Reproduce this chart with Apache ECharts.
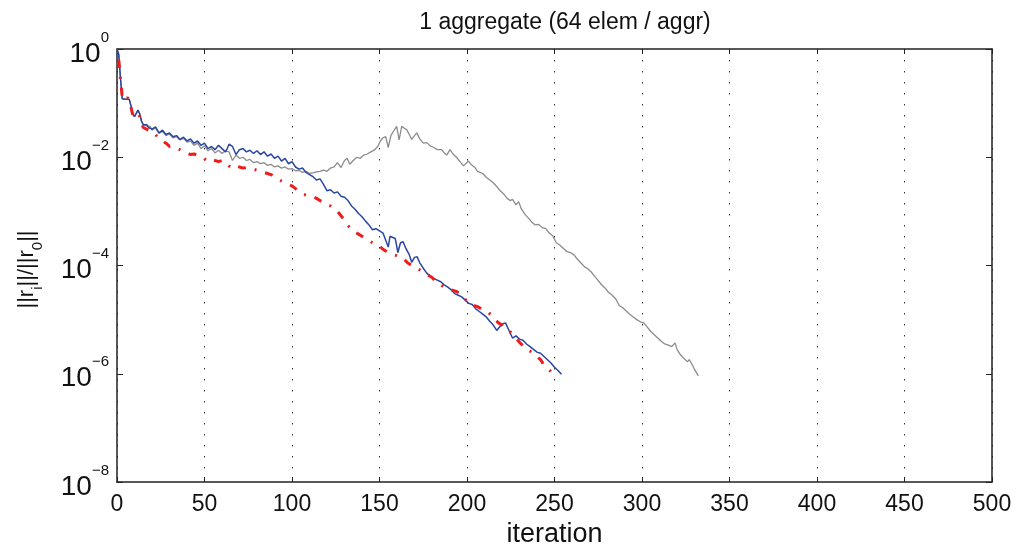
<!DOCTYPE html>
<html>
<head>
<meta charset="utf-8">
<script src="https://cdn.jsdelivr.net/npm/echarts@6/dist/echarts.min.js"></script>
<style>
  html, body { margin: 0; padding: 0; background: #fff; }
  #main { width: 1017px; height: 553px; }
</style>
</head>
<body>
<div id="main"></div>
<script>
// residual history, log10(||r_i|| / ||r_0||) vs iteration
var grayIt = [0,1,2,3,4,5,6,7,8,9,10,11,12,13,14,15,16,17,18,19,20,22,24,26,28,30,32,34,36,38,40,42,44,46,48,50,52,54,56,58,60,62,64,66,68,70,72,74,76,78,80,82,84,86,88,90,92,94,96,98,100,102,104,106,108,110,112,114,116,118,120,122,124,126,128,130,131.5,133,135,137,139,141,143,145,147,149,150.5,152,153.5,155,156.5,158,159.8,161.2,162.7,164,165.5,167,168.4,170,171.3,173,175,177,179,181,183,185.5,187,188.4,190.3,192,194,196,198,200.8,202.5,204.6,206,207.4,209,211,213,215,217,219,221,223,224.6,226,228,229.5,231,233,235,237,239,241,243,245,247,249,251,253,255,257,259,261,263,265,267,269,271,273,275,277,279,281,283,285,287,289,291,293,295,297,299,301,303,305,307,309,311,313,315,317,318.9,320,322,324,326,327,328.5,330,332.2];
var grayLog = [0,-0.1,-0.55,-0.92,-0.95,-0.93,-0.9,-0.93,-1.05,-1.2,-1.25,-1.22,-1.13,-1.2,-1.33,-1.4,-1.37,-1.42,-1.45,-1.43,-1.5,-1.46,-1.56,-1.52,-1.6,-1.57,-1.64,-1.62,-1.68,-1.65,-1.72,-1.7,-1.78,-1.74,-1.84,-1.79,-1.88,-1.84,-1.92,-1.87,-1.93,-1.88,-1.9,-2.06,-1.96,-2.02,-2.0,-2.06,-2.04,-2.1,-2.08,-2.12,-2.1,-2.15,-2.13,-2.18,-2.16,-2.2,-2.18,-2.22,-2.21,-2.25,-2.24,-2.28,-2.26,-2.3,-2.29,-2.27,-2.26,-2.24,-2.26,-2.2,-2.18,-2.1,-2.19,-2.06,-2.02,-2.13,-2.06,-2.0,-2.02,-1.96,-1.94,-1.9,-1.87,-1.8,-1.7,-1.64,-1.62,-1.82,-1.6,-1.52,-1.43,-1.68,-1.43,-1.46,-1.49,-1.58,-1.67,-1.6,-1.55,-1.66,-1.74,-1.73,-1.79,-1.82,-1.86,-1.86,-1.92,-1.96,-1.86,-1.94,-2.0,-2.08,-2.16,-2.07,-2.14,-2.19,-2.26,-2.28,-2.3,-2.37,-2.42,-2.47,-2.54,-2.62,-2.68,-2.76,-2.8,-2.78,-2.88,-2.82,-2.95,-3.05,-3.12,-3.2,-3.25,-3.24,-3.3,-3.32,-3.4,-3.45,-3.58,-3.62,-3.68,-3.74,-3.76,-3.8,-3.88,-3.95,-4.02,-4.06,-4.12,-4.2,-4.28,-4.36,-4.42,-4.5,-4.55,-4.62,-4.74,-4.78,-4.84,-4.9,-4.95,-5.0,-5.04,-5.06,-5.14,-5.22,-5.28,-5.34,-5.4,-5.45,-5.47,-5.5,-5.43,-5.55,-5.65,-5.72,-5.78,-5.74,-5.82,-5.92,-6.04];

var blueIt = [0,1,2,3,4,5,6,7,8,9,10,11,12,13,14,15,16,17,18,19,20,22,24,26,28,30,32,34,36,38,40,42,44,46,48,50,52,54,56,58,60,62,63,64,66,68,70,72,74,76,78,80,82,84,86,88,90,92,94,96,98,100,102,104,106,108,110,112,114,116,118,120,122,124,126,128,130,132,134,136,138,140,142,144,146,148,150,152,153,155,156,157,159,160.5,162,163.5,165,167,168.4,170,171.5,173,175,177,179,181,183,185,187,189,191,193,195,197,199,201,203,205,207,209,211,213,215,217,218,220,222,224,226,228,230,232,234,236,238,240,242,244,246,248,250,252,254];
var blueLog = [0,-0.1,-0.55,-0.92,-0.95,-0.93,-0.9,-0.93,-1.05,-1.2,-1.25,-1.22,-1.13,-1.2,-1.33,-1.4,-1.37,-1.4,-1.45,-1.42,-1.48,-1.44,-1.55,-1.5,-1.58,-1.55,-1.62,-1.6,-1.67,-1.63,-1.7,-1.66,-1.74,-1.7,-1.78,-1.74,-1.84,-1.8,-1.86,-1.78,-1.84,-1.9,-1.84,-1.76,-1.8,-1.95,-1.86,-1.84,-1.9,-1.87,-1.93,-1.88,-1.95,-1.9,-1.98,-1.94,-2.02,-1.98,-2.07,-2.02,-2.12,-2.08,-2.18,-2.22,-2.2,-2.28,-2.32,-2.36,-2.42,-2.4,-2.5,-2.62,-2.6,-2.66,-2.64,-2.72,-2.74,-2.8,-2.9,-2.96,-3.04,-3.1,-3.18,-3.25,-3.34,-3.32,-3.36,-3.4,-3.42,-3.66,-3.46,-3.43,-3.5,-3.76,-3.58,-3.56,-3.68,-3.8,-3.94,-3.85,-3.84,-3.95,-4.05,-4.14,-4.2,-4.24,-4.27,-4.3,-4.36,-4.4,-4.45,-4.52,-4.55,-4.58,-4.64,-4.7,-4.72,-4.8,-4.85,-4.9,-4.95,-5.03,-5.1,-5.2,-5.22,-5.08,-5.06,-5.2,-5.34,-5.3,-5.36,-5.38,-5.45,-5.5,-5.55,-5.6,-5.62,-5.68,-5.74,-5.8,-5.88,-5.94,-6.01];

var redIt = [1,2,3,4,5,6,7,8,9,10,11,12,13,14,15,16,18,20,22,24,26,28,30,32,34,36,38,40,42,44,46,48,50,52,54,56,58,60,62,64,66,68,70,72,74,76,78,80,82,84,86,88,90,92,94,96,98,100,102,104,106,108,110,112,114,116,118,120,122,124,126,128,130,132,134,136,138,140,142,144,146,148,150,152,154,156,158,160,162,164,166,168,170,172,174,176,178,180,182,184,186,188,190,192,194,196,198,200,202,204,206,208,210,212,214,216,218,220,222,224,226,228,230,232,234,236,238,240,242,244,246,248,249];
var redLog = [-0.2,-0.55,-0.9,-0.95,-0.92,-0.9,-0.94,-1.08,-1.22,-1.26,-1.25,-1.2,-1.25,-1.38,-1.45,-1.48,-1.5,-1.52,-1.58,-1.66,-1.7,-1.74,-1.8,-1.8,-1.82,-1.86,-1.9,-1.92,-1.95,-1.94,-1.96,-1.98,-2.03,-2.07,-2.04,-2.06,-2.08,-2.06,-2.08,-2.16,-2.2,-2.16,-2.18,-2.2,-2.19,-2.2,-2.22,-2.24,-2.27,-2.28,-2.3,-2.32,-2.36,-2.4,-2.44,-2.47,-2.5,-2.53,-2.58,-2.63,-2.68,-2.7,-2.71,-2.72,-2.76,-2.8,-2.84,-2.88,-2.9,-2.95,-3.0,-3.08,-3.16,-3.26,-3.34,-3.38,-3.42,-3.46,-3.5,-3.54,-3.58,-3.6,-3.64,-3.7,-3.74,-3.78,-3.8,-3.82,-3.84,-3.88,-3.95,-3.99,-4.03,-4.06,-4.1,-4.14,-4.18,-4.22,-4.29,-4.34,-4.38,-4.42,-4.44,-4.46,-4.48,-4.52,-4.6,-4.65,-4.71,-4.74,-4.76,-4.8,-4.84,-4.86,-4.92,-5.0,-5.06,-5.1,-5.16,-5.21,-5.26,-5.34,-5.42,-5.48,-5.55,-5.58,-5.64,-5.68,-5.74,-5.84,-5.9,-5.96,-5.98];

var xTicks = [0, 50, 100, 150, 200, 250, 300, 350, 400, 450, 500];
var yExp = [-8, -6, -4, -2, 0];

function pairs(xs, ys) {
  return xs.map(function (x, i) { return [x, ys[i]]; });
}

var font = '"Liberation Sans", Arial, sans-serif';
var chart = echarts.init(document.getElementById('main'));

var frame = { onZero: false, lineStyle: { color: '#222', width: 1.5 } };
var tick = { inside: true, length: 5, lineStyle: { color: '#222' } };

var option = {
  backgroundColor: '#fff',
  animation: false,
  title: {
    text: '1 aggregate (64 elem / aggr)',
    left: 560,
    top: 6,
    textAlign: 'center',
    textStyle: { fontFamily: font, fontSize: 23, fontWeight: 'normal', color: '#111' }
  },
  grid: { left: 117, right: 25, top: 49, bottom: 66 },
  xAxis: [{
    type: 'value',
    min: xTicks[0],
    max: xTicks[xTicks.length - 1],
    interval: 50,
    name: 'iteration',
    nameLocation: 'middle',
    nameGap: 39,
    nameTextStyle: { fontFamily: font, fontSize: 27, color: '#111' },
    axisLine: frame,
    axisTick: tick,
    axisLabel: { fontFamily: font, fontSize: 23, color: '#111', margin: 11 },
    splitLine: { show: true, lineStyle: { color: '#333', width: 1, type: [1.5, 9.5] } }
  }, {
    type: 'value',
    position: 'top',
    min: 0,
    max: 500,
    interval: 50,
    axisLine: frame,
    axisTick: tick,
    axisLabel: { show: false },
    splitLine: { show: false }
  }],
  yAxis: [{
    type: 'value',
    min: yExp[0],
    max: yExp[yExp.length - 1],
    interval: 2,
    name: '{n|||r}{s|i}{n|||/||r}{s|0}{n|||}',
    nameLocation: 'middle',
    nameGap: 72,
    nameTextStyle: {
      fontFamily: font, color: '#111',
      padding: [0, 8, 0, 0],
      rich: {
        n: { fontFamily: font, fontSize: 22, lineHeight: 36, verticalAlign: 'middle', color: '#111' },
        s: { fontFamily: font, fontSize: 15, lineHeight: 36, verticalAlign: 'bottom', color: '#111' }
      }
    },
    axisLine: { show: true, onZero: false, lineStyle: { color: '#222', width: 1.5 } },
    axisTick: { show: true, inside: true, length: 6, lineStyle: { color: '#222' } },
    axisLabel: {
      margin: 8,
      formatter: function (v) {
        var e = v === 0 ? '0' : '\u2212' + Math.abs(v);
        return '{b|10}{e|' + e + '}';
      },
      rich: {
        b: { fontFamily: font, fontSize: 28, lineHeight: 38, verticalAlign: 'bottom', color: '#111' },
        e: { fontFamily: font, fontSize: 15, lineHeight: 38, verticalAlign: 'top', color: '#111' }
      }
    },
    splitLine: { show: false }
  }, {
    type: 'value',
    position: 'right',
    min: -8,
    max: 0,
    interval: 2,
    axisLine: { show: true, onZero: false, lineStyle: { color: '#222', width: 1.5 } },
    axisTick: { show: true, inside: true, length: 6, lineStyle: { color: '#222' } },
    axisLabel: { show: false },
    splitLine: { show: false }
  }],
  series: [{
    name: 'gray',
    type: 'line',
    data: pairs(grayIt, grayLog),
    showSymbol: false,
    lineStyle: { color: '#8c8c8c', width: 1.3 },
    z: 2
  }, {
    name: 'blue',
    type: 'line',
    data: pairs(blueIt, blueLog),
    showSymbol: false,
    lineStyle: { color: '#2a46a0', width: 1.5 },
    z: 3
  }, {
    name: 'red',
    type: 'line',
    data: pairs(redIt, redLog),
    showSymbol: false,
    lineStyle: { color: '#ee1c1c', width: 3, type: [8, 9, 2, 9] },
    z: 4
  }]
};

chart.setOption(option);
</script>
</body>
</html>
